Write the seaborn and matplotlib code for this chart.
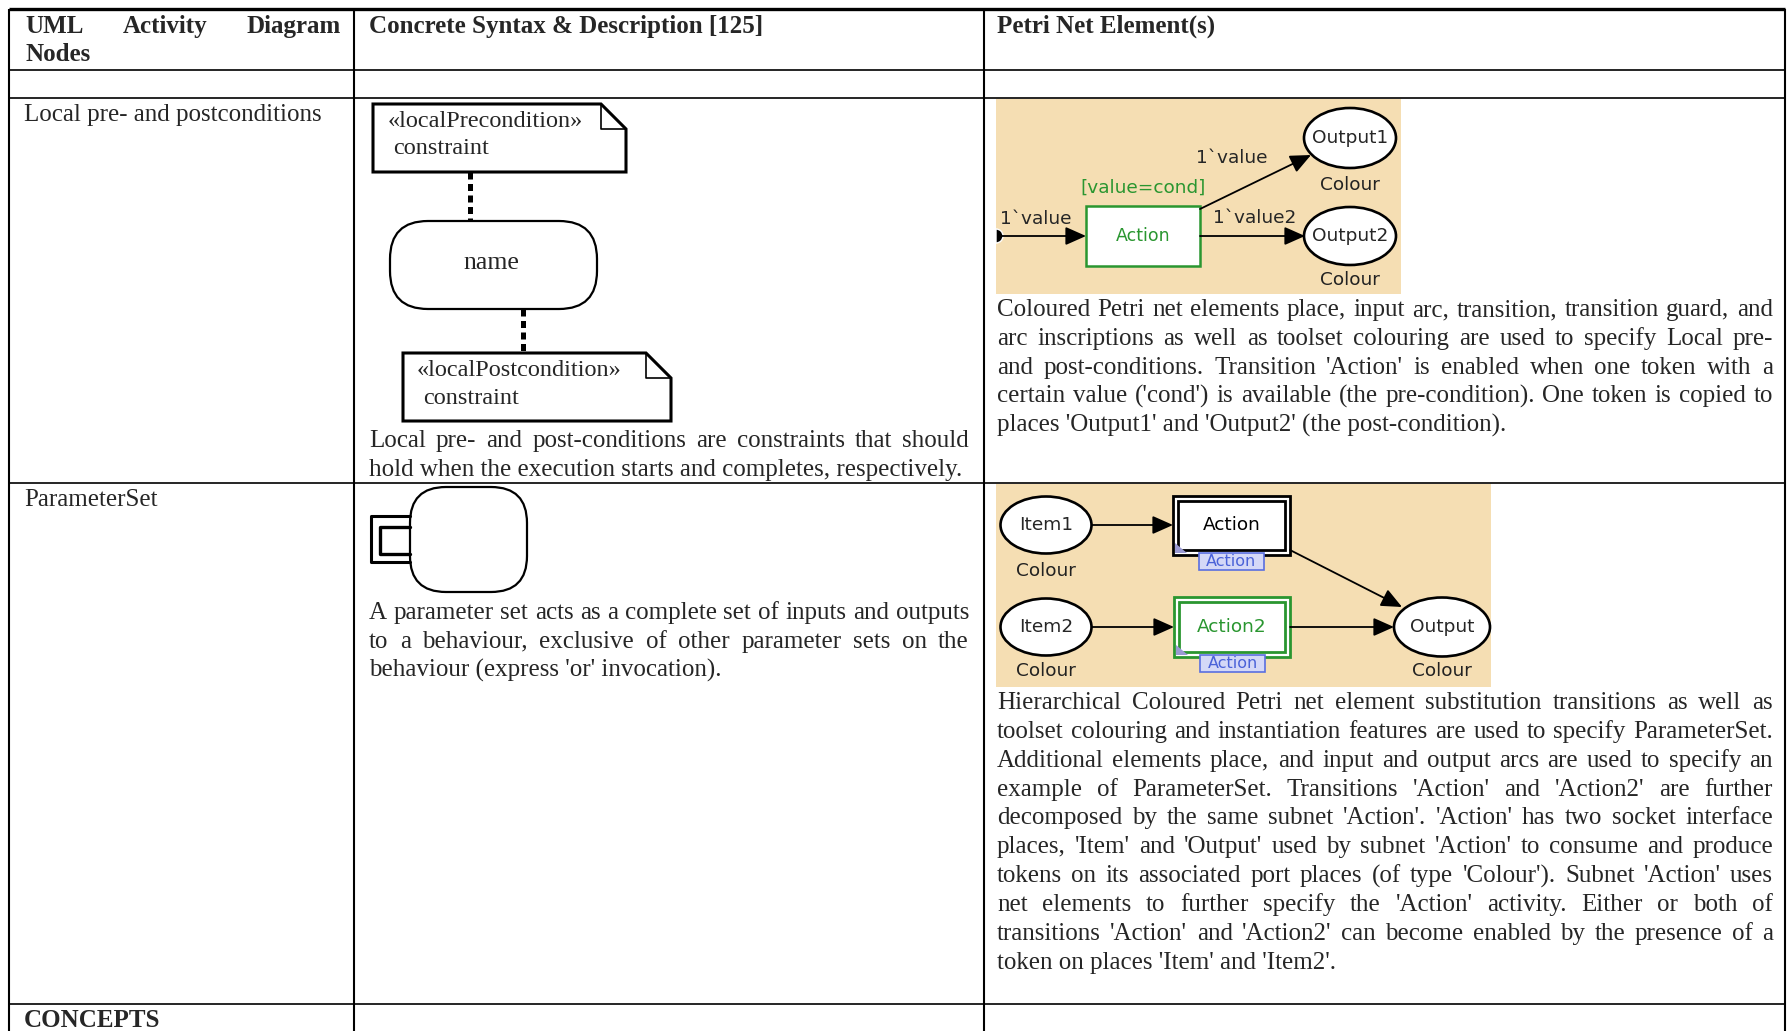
import matplotlib
matplotlib.use("Agg")
import matplotlib.pyplot as plt
import matplotlib.patches as mpatches
import seaborn as sns

# ---- table content ----
header_lines = [
    ["UML Activity Diagram", "Nodes"],
    ["Concrete Syntax & Description [125]"],
    ["Petri Net Element(s)"],
]
row_labels = ["Local pre- and postconditions", "ParameterSet"]
section_label = "CONCEPTS"

uml_desc = [
    ["Local pre- and post-conditions are constraints that should",
     "hold when the execution starts and completes, respectively."],
    ["A parameter set acts as a complete set of inputs and outputs",
     "to a behaviour, exclusive of other parameter sets on the",
     "behaviour (express 'or' invocation)."],
]
petri_desc = [
    ["Coloured Petri net elements place, input arc, transition, transition guard, and",
     "arc inscriptions as well as toolset colouring are used to specify Local pre-",
     "and post-conditions. Transition 'Action' is enabled when one token with a",
     "certain value ('cond') is available (the pre-condition). One token is copied to",
     "places 'Output1' and 'Output2' (the post-condition)."],
    ["Hierarchical Coloured Petri net element substitution transitions as well as",
     "toolset colouring and instantiation features are used to specify ParameterSet.",
     "Additional elements place, and input and output arcs are used to specify an",
     "example of ParameterSet. Transitions 'Action' and 'Action2' are further",
     "decomposed by the same subnet 'Action'. 'Action' has two socket interface",
     "places, 'Item' and 'Output' used by subnet 'Action' to consume and produce",
     "tokens on its associated port places (of type 'Colour'). Subnet 'Action' uses",
     "net elements to further specify the 'Action' activity. Either or both of",
     "transitions 'Action' and 'Action2' can become enabled by the presence of a",
     "token on places 'Item' and 'Item2'."],
]

# stereotype labels of the UML notes and petri net labels
note_labels = [["\u00ablocalPrecondition\u00bb", "constraint"],
               ["\u00ablocalPostcondition\u00bb", "constraint"]]
action_name = "name"
net1_places = ["Output1", "Output2"]
net1_arcs = ["1`value", "1`value", "1`value2"]
net1_guard = "[value=cond]"
net2_places = ["Item1", "Item2", "Output"]
net2_trans = ["Action", "Action2"]
colour_set = "Colour"

sns.set_theme(style="white")
plt.rcParams['font.family'] = ['Liberation Serif', 'DejaVu Serif']

W, H = 1787, 1031
fig = plt.figure(figsize=(W / 100, H / 100), dpi=100)
ax = fig.add_axes([0, 0, 1, 1])
ax.set_xlim(0, W)
ax.set_ylim(H, 0)
ax.axis("off")
renderer = fig.canvas.get_renderer()

FS = 18
PFS = 13.3
GREEN = "#2a9630"
BEIGE = "#f5deb3"
SANS = ["DejaVu Sans"]


def put_line(x0, x1, y, line, justify=True, **kw):
    words = line.split()
    if not justify or len(words) == 1:
        ax.text(x0, y, line, ha="left", va="baseline", **kw)
        return
    texts = [ax.text(x0, y, w, ha="left", va="baseline", **kw) for w in words]
    widths = [t.get_window_extent(renderer).width for t in texts]
    gap = (x1 - x0 - sum(widths)) / (len(words) - 1)
    x = x0
    for t, w in zip(texts, widths):
        t.set_x(x)
        x += w + gap


def paragraph(x0, x1, y0, lines, step=28.7, **kw):
    for i, ln in enumerate(lines):
        put_line(x0, x1, y0 + i * step, ln, justify=(i < len(lines) - 1), fontsize=FS, **kw)


# ---- table grid ----
col_x = [9, 354, 984, 1785]
row_y = [9, 70, 98, 483, 1004]
ax.hlines(row_y[0], col_x[0], col_x[-1], color="black", lw=2.4)
ax.hlines(row_y[1:], col_x[0], col_x[-1], color="black", lw=1.2)
ax.vlines(col_x, row_y[0], H, color="black", lw=1.5)

# header
put_line(25, 341, 33, header_lines[0][0], fontsize=FS, fontweight="bold")
put_line(25, 341, 61, header_lines[0][1], justify=False, fontsize=FS, fontweight="bold")
put_line(369, 969, 33, header_lines[1][0], justify=False, fontsize=FS, fontweight="bold")
put_line(997, 1773, 33, header_lines[2][0], justify=False, fontsize=FS, fontweight="bold")

# row labels
put_line(24, 341, 121, row_labels[0], justify=False, fontsize=FS)
put_line(24, 341, 506, row_labels[1], justify=False, fontsize=FS)
put_line(24, 341, 1027, section_label, justify=False, fontsize=FS, fontweight="bold")

# descriptions
paragraph(369, 969, 447, uml_desc[0])
paragraph(369, 969, 619, uml_desc[1])
paragraph(997, 1773, 316, petri_desc[0], step=28.8)
paragraph(997, 1773, 709, petri_desc[1], step=28.85)


# ---- UML concrete syntax: notes + action ----
def note(x0, y0, x1, y1, f=25):
    pts = [(x0, y0), (x1 - f, y0), (x1, y0 + f), (x1, y1), (x0, y1)]
    ax.add_patch(mpatches.Polygon(pts, closed=True, fc="white", ec="black", lw=2.2, zorder=3))
    ax.plot([x1 - f, x1 - f, x1], [y0, y0 + f, y0 + f], color="black", lw=1.2, zorder=4)


UFS = 17.5
note(373, 104, 626, 172)
ax.text(388, 127, note_labels[0][0], fontsize=UFS, va="baseline", zorder=5)
ax.text(393, 154, note_labels[0][1], fontsize=UFS, va="baseline", zorder=5)
ax.plot([470, 470], [172, 221], color="black", lw=3.6, ls=(0, (1.4, 0.9)), zorder=2)
ax.add_patch(mpatches.FancyBboxPatch((390 + 38, 221 + 38), 207 - 76, 88 - 76,
                                     boxstyle="round,pad=38", fc="white", ec="black",
                                     lw=1.6, zorder=3))
ax.text(491, 263, action_name, fontsize=18.5, ha="center", va="center", zorder=5)
ax.plot([523, 523], [309, 353], color="black", lw=3.6, ls=(0, (1.4, 0.9)), zorder=2)
note(403, 353, 671, 421)
ax.text(417, 376, note_labels[1][0], fontsize=UFS, va="baseline", zorder=5)
ax.text(423, 404, note_labels[1][1], fontsize=UFS, va="baseline", zorder=5)

# parameter set shape
ax.add_patch(mpatches.FancyBboxPatch((410 + 36, 487 + 36), 117 - 72, 105 - 72,
                                     boxstyle="round,pad=36", fc="white", ec="black",
                                     lw=1.6, zorder=3))
ax.plot([410, 371, 371, 410], [516, 516, 562, 562], color="black", lw=2.2, zorder=4)
ax.plot([410, 380, 380, 410], [527, 527, 554, 554], color="black", lw=2.4, zorder=4)


# ---- Petri net 1 ----
def arrow(p0, p1):
    ax.annotate("", xy=p1, xytext=p0, zorder=4,
                arrowprops=dict(arrowstyle="-|>,head_length=0.9,head_width=0.4",
                                color="black", lw=1.3, shrinkA=0, shrinkB=0,
                                mutation_scale=14))


def place(cx, cy, w, h, label):
    ax.add_patch(mpatches.Ellipse((cx, cy), w, h, fc="white", ec="black", lw=1.9, zorder=3))
    ax.text(cx, cy, label, fontsize=PFS, family=SANS, ha="center", va="center", zorder=5)


def colour(cx, cy):
    ax.text(cx, cy, colour_set, fontsize=PFS, family=SANS, ha="center", va="center",
            color="#222222", zorder=5)


ax.add_patch(mpatches.Rectangle((996, 99), 405, 195, fc=BEIGE, ec="none", zorder=1))
ax.add_patch(mpatches.Wedge((996, 236), 7, -90, 90, fc="black", zorder=3))
arrow((998, 236), (1086, 236))
ax.text(1036, 219, net1_arcs[0], fontsize=PFS, family=SANS, ha="center", va="center", zorder=5)
ax.add_patch(mpatches.Rectangle((1086, 206), 114, 60, fc="white", ec=GREEN, lw=1.8, zorder=3))
ax.text(1143, 236, net2_trans[0], fontsize=12.5, family=SANS, color=GREEN,
        ha="center", va="center", zorder=5)
ax.text(1143, 188, net1_guard, fontsize=PFS, family=SANS, color=GREEN,
        ha="center", va="center", zorder=5)
place(1350, 138, 92, 60, net1_places[0])
colour(1350, 185)
place(1350, 236, 92, 58, net1_places[1])
colour(1350, 280)
arrow((1200, 209), (1311, 155))
ax.text(1232, 158, net1_arcs[1], fontsize=PFS, family=SANS, ha="center", va="center", zorder=5)
arrow((1200, 236), (1305, 236))
ax.text(1255, 218, net1_arcs[2], fontsize=PFS, family=SANS, ha="center", va="center", zorder=5)

# ---- Petri net 2 ----
ax.add_patch(mpatches.Rectangle((996, 484), 495, 203, fc=BEIGE, ec="none", zorder=1))
place(1046, 525, 91, 57, net2_places[0])
colour(1046, 571)
place(1046, 627, 91, 57, net2_places[1])
colour(1046, 671)
place(1442, 627, 96, 59, net2_places[2])
colour(1442, 671)


def subst(x0, y0, w, h, label, ec, tc):
    ax.add_patch(mpatches.Rectangle((x0, y0), w, h, fc="white", ec=ec, lw=2.0, zorder=3))
    ax.add_patch(mpatches.Rectangle((x0 + 5, y0 + 5), w - 10, h - 10, fc="white", ec=ec,
                                    lw=2.0, zorder=3))
    ax.add_patch(mpatches.Polygon([(x0 + 2, y0 + h - 2), (x0 + 2, y0 + h - 12),
                                   (x0 + 14, y0 + h - 2)], fc="#9a9ad2", ec="none", zorder=4))
    ax.text(x0 + w / 2, y0 + h / 2, label, fontsize=PFS, family=SANS, color=tc,
            ha="center", va="center", zorder=5)
    ax.add_patch(mpatches.Rectangle((x0 + 26, y0 + h - 2), 65, 17, fc="#d4d8f7",
                                    ec="#5a6fe0", lw=1.2, zorder=4))
    ax.text(x0 + 58.5, y0 + h + 6.5, net2_trans[0], fontsize=11.5, family=SANS,
            color="#4a62d8", ha="center", va="center", zorder=5)


subst(1173, 496, 117, 59, net2_trans[0], "black", "black")
subst(1174, 597, 116, 60, net2_trans[1], GREEN, GREEN)
arrow((1092, 525), (1173, 525))
arrow((1092, 627), (1174, 627))
arrow((1290, 627), (1394, 627))
arrow((1290, 550), (1402, 607))

fig.savefig("out.png", dpi=100)
